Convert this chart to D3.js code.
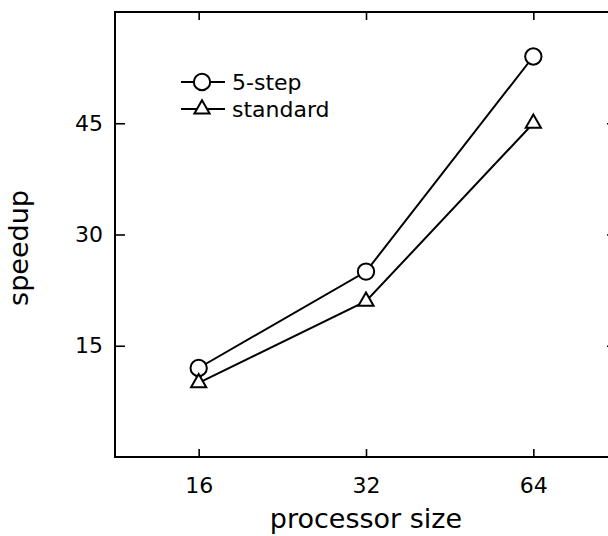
<!DOCTYPE html>
<html>
<head>
<meta charset="utf-8">
<script src="https://cdn.jsdelivr.net/npm/d3@7"></script>
<style>
    body { margin: 0; background: #fff; }
    text { font-family: "DejaVu Sans", sans-serif; fill: #000; }
</style>
</head>
<body>
<div id="chart"></div>
<script>
        // Chart data
        var categories = ["16", "32", "64"];
        var fiveStep = [12, 25, 54];
        var standard = [10, 21, 45];
        var yTicks = [15, 30, 45];
        var seriesNames = ["5-step", "standard"];

        // Size of the page and the plot frame (right side runs off the picture)
        var width = 608;
        var height = 536;
        var margin = {top: 12, right: -9, bottom: 79, left: 115};

        var svg = d3.select("#chart")
            .append("svg")
            .attr("width", width)
            .attr("height", height);

        // Scales
        var x = d3.scalePoint()
            .domain(categories)
            .range([margin.left, width - margin.right])
            .padding(0.5);

        var y = d3.scaleLinear()
            .domain([0, 60])
            .range([height - margin.bottom, margin.top]);

        // Axes with inward ticks, no labels on top / right
        svg.append("g")
            .attr("transform", `translate(0, ${height - margin.bottom})`)
            .call(d3.axisBottom(x).tickSize(-8).tickPadding(20))
            .call(g => g.selectAll("text").style("font-size", "22px"));

        svg.append("g")
            .attr("transform", `translate(0, ${margin.top})`)
            .call(d3.axisTop(x).tickSize(-8).tickFormat(""));

        svg.append("g")
            .attr("transform", `translate(${margin.left}, 0)`)
            .call(d3.axisLeft(y).tickValues(yTicks).tickSize(-10).tickPadding(12))
            .call(g => g.selectAll("text").style("font-size", "22px"));

        svg.append("g")
            .attr("transform", `translate(${width - margin.right}, 0)`)
            .call(d3.axisRight(y).tickValues(yTicks).tickSize(-10).tickFormat(""));

        svg.selectAll(".domain").remove();
        svg.selectAll(".tick line").attr("stroke", "#000").attr("stroke-width", 1.6);

        // Plot frame
        svg.append("rect")
            .attr("x", margin.left)
            .attr("y", margin.top)
            .attr("width", width - margin.right - margin.left)
            .attr("height", height - margin.bottom - margin.top)
            .attr("fill", "none")
            .attr("stroke", "#000")
            .attr("stroke-width", 2);

        // Axis titles
        svg.append("text")
            .attr("x", (margin.left + width - margin.right) / 2)
            .attr("y", 528)
            .attr("text-anchor", "middle")
            .style("font-size", "27px")
            .text("processor size");

        svg.append("text")
            .attr("transform", "translate(28, 248) rotate(-90)")
            .attr("text-anchor", "middle")
            .style("font-size", "27px")
            .text("speedup");

        // Lines and markers
        var line = d3.line()
            .x((d, i) => x(categories[i]))
            .y(d => y(d));

        var circle = d3.symbol().type(d3.symbolCircle).size(210);
        var triangle = d3.symbol().type(d3.symbolTriangle).size(100);

        function drawSeries(values, marker) {
            svg.append("path")
                .datum(values)
                .attr("d", line)
                .attr("fill", "none")
                .attr("stroke", "#000")
                .attr("stroke-width", 2);

            svg.selectAll(null)
                .data(values)
                .enter().append("path")
                .attr("d", marker)
                .attr("transform", (d, i) => `translate(${x(categories[i])}, ${y(d)})`)
                .attr("fill", "#fff")
                .attr("stroke", "#000")
                .attr("stroke-width", 2);
        }

        drawSeries(fiveStep, circle);
        drawSeries(standard, triangle);

        // Legend
        var legend = svg.append("g").attr("transform", "translate(181, 82)");
        var items = legend.selectAll("g")
            .data(seriesNames)
            .enter().append("g")
            .attr("transform", (d, i) => `translate(0, ${i * 27})`);

        items.append("line")
            .attr("x1", 0).attr("x2", 44)
            .attr("stroke", "#000")
            .attr("stroke-width", 2);

        items.append("path")
            .attr("d", (d, i) => [circle, triangle][i]())
            .attr("transform", "translate(21, 0)")
            .attr("fill", "#fff")
            .attr("stroke", "#000")
            .attr("stroke-width", 2);

        items.append("text")
            .attr("x", 51)
            .attr("dy", "0.35em")
            .style("font-size", "22px")
            .text(d => d);
</script>
</body>
</html>
